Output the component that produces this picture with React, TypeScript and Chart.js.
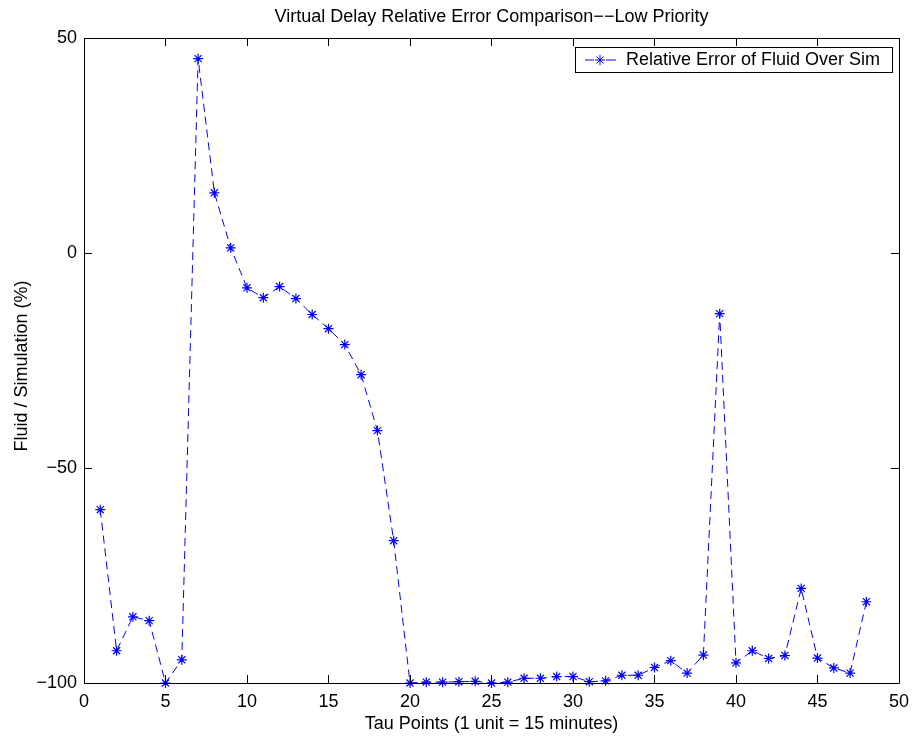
import React, { useEffect, useRef } from "react";
import { Chart, registerables } from "chart.js";

Chart.register(...registerables);

// Tau point index (1 unit = 15 minutes)
const tauPoints = [
  1, 2, 3, 4, 5, 6, 7, 8, 9, 10, 11, 12, 13, 14, 15, 16, 17, 18, 19, 20, 21, 22, 23, 24,
  25, 26, 27, 28, 29, 30, 31, 32, 33, 34, 35, 36, 37, 38, 39, 40, 41, 42, 43, 44, 45, 46, 47, 48,
];

// Relative error of fluid model over simulation (%)
const relativeError = [
  -59.7, -92.5, -84.6, -85.5, -100, -94.6, 45.2, 14.0, 1.2, -8.1, -10.4, -7.8,
  -10.6, -14.3, -17.6, -21.3, -28.3, -41.3, -66.9, -100, -99.8, -99.8, -99.7, -99.6,
  -100, -99.8, -98.9, -98.9, -98.5, -98.5, -99.7, -99.5, -98.2, -98.2, -96.4, -94.8,
  -97.7, -93.5, -14.1, -95.3, -92.5, -94.3, -93.6, -78.0, -94.2, -96.5, -97.7, -81.1,
];

const xTicks = [0, 5, 10, 15, 20, 25, 30, 35, 40, 45, 50];
const yTicks = [-100, -50, 0, 50];

const chartTitle = "Virtual Delay Relative Error Comparison\u2212\u2212Low Priority";
const xAxisTitle = "Tau Points (1 unit = 15 minutes)";
const yAxisTitle = "Fluid / Simulation (%)";
const seriesLabel = "Relative Error of Fluid Over Sim";

const FONT = "Liberation Sans, Arial, Helvetica, sans-serif";
const FONT_SIZE = 18;
const BLUE = "#0000ff";
const DASH = [8, 5];

const W = 917;
const H = 737;

// Draws the box, inward tick marks, titles and the legend
const decorations = {
  id: "decorations",
  afterDraw(chart: any) {
    const { ctx, chartArea } = chart;
    const { left, right, top, bottom } = chartArea;
    const xs = chart.scales.x;
    const ys = chart.scales.y;
    const tl = 8;
    ctx.save();
    ctx.strokeStyle = "#000";
    ctx.lineWidth = 1;
    ctx.setLineDash([]);
    ctx.beginPath();
    ctx.rect(Math.round(left) + 0.5, Math.round(top) + 0.5, Math.round(right - left), Math.round(bottom - top));
    ctx.stroke();

    ctx.beginPath();
    xTicks.forEach((v) => {
      const px = Math.round(xs.getPixelForValue(v)) + 0.5;
      ctx.moveTo(px, bottom);
      ctx.lineTo(px, bottom - tl);
      ctx.moveTo(px, top);
      ctx.lineTo(px, top + tl);
    });
    yTicks.forEach((v) => {
      const py = Math.round(ys.getPixelForValue(v)) + 0.5;
      ctx.moveTo(left, py);
      ctx.lineTo(left + tl, py);
      ctx.moveTo(right, py);
      ctx.lineTo(right - tl, py);
    });
    ctx.stroke();

    ctx.fillStyle = "#000";
    ctx.font = `${FONT_SIZE}px ${FONT}`;
    ctx.textAlign = "center";
    ctx.textBaseline = "alphabetic";
    ctx.fillText(chartTitle, (left + right) / 2, 22);
    ctx.fillText(xAxisTitle, (left + right) / 2, 729);

    ctx.save();
    ctx.translate(27, 366);
    ctx.rotate(-Math.PI / 2);
    ctx.fillText(yAxisTitle, 0, 0);
    ctx.restore();

    // legend
    const lx0 = 575, ly0 = 47, lx1 = 892, ly1 = 72;
    ctx.fillStyle = "#fff";
    ctx.fillRect(lx0, ly0, lx1 - lx0, ly1 - ly0);
    ctx.strokeStyle = "#000";
    ctx.strokeRect(lx0 + 0.5, ly0 + 0.5, lx1 - lx0, ly1 - ly0);
    const cy = (ly0 + ly1) / 2 + 0.5;
    ctx.strokeStyle = BLUE;
    ctx.beginPath();
    ctx.moveTo(585, cy);
    ctx.lineTo(594, cy);
    ctx.moveTo(606, cy);
    ctx.lineTo(616, cy);
    ctx.stroke();
    const r = 5;
    ctx.beginPath();
    ctx.moveTo(600 - r, cy);
    ctx.lineTo(600 + r, cy);
    ctx.moveTo(600, cy - r);
    ctx.lineTo(600, cy + r);
    const d = r * Math.SQRT1_2;
    ctx.moveTo(600 - d, cy - d);
    ctx.lineTo(600 + d, cy + d);
    ctx.moveTo(600 - d, cy + d);
    ctx.lineTo(600 + d, cy - d);
    ctx.stroke();
    ctx.fillStyle = "#000";
    ctx.textAlign = "left";
    ctx.textBaseline = "middle";
    ctx.fillText(seriesLabel, 626, cy);
    ctx.restore();
  },
};

export default function App() {
  const canvasRef = useRef<HTMLCanvasElement | null>(null);

  useEffect(() => {
    document.body.style.margin = "0";
    document.body.style.background = "#fff";
    const canvas = canvasRef.current;
    if (!canvas) return;
    const chart = new Chart(canvas, {
      type: "line",
      data: {
        datasets: [
          {
            label: seriesLabel,
            data: tauPoints.map((x, i) => ({ x, y: relativeError[i] })),
            borderColor: BLUE,
            backgroundColor: BLUE,
            borderWidth: 1,
            borderDash: DASH,
            pointStyle: "star",
            pointRadius: 5,
            pointBorderWidth: 1.2,
            pointBorderColor: BLUE,
            pointHoverRadius: 5,
            tension: 0,
            fill: false,
            clip: false,
          },
        ],
      },
      options: {
        responsive: false,
        animation: false,
        devicePixelRatio: 1,
        events: [],
        layout: { padding: { left: 0, top: 38, right: 16, bottom: 0 } },
        plugins: {
          legend: { display: false },
          title: { display: false },
          tooltip: { enabled: false },
        },
        scales: {
          x: {
            type: "linear",
            min: 0,
            max: 50,
            afterBuildTicks: (scale: any) => {
              scale.ticks = xTicks.map((value) => ({ value }));
            },
            afterFit: (scale: any) => {
              scale.height = 54;
            },
            grid: { display: false, drawTicks: false },
            border: { display: false },
            ticks: {
              padding: 8,
              color: "#000",
              font: { family: FONT, size: FONT_SIZE },
              maxRotation: 0,
              autoSkip: false,
            },
          },
          y: {
            type: "linear",
            min: -100,
            max: 50,
            afterBuildTicks: (scale: any) => {
              scale.ticks = yTicks.map((value) => ({ value }));
            },
            afterFit: (scale: any) => {
              scale.width = 84;
            },
            grid: { display: false, drawTicks: false },
            border: { display: false },
            ticks: {
              padding: 7,
              color: "#000",
              font: { family: FONT, size: FONT_SIZE },
              callback: (v: any) => String(v).replace("-", "\u2212"),
            },
          },
        },
      },
      plugins: [decorations],
    });
    return () => chart.destroy();
  }, []);

  return (
    <div style={{ width: W, height: H, background: "#fff" }}>
      <canvas ref={canvasRef} width={W} height={H} style={{ display: "block" }} />
    </div>
  );
}
